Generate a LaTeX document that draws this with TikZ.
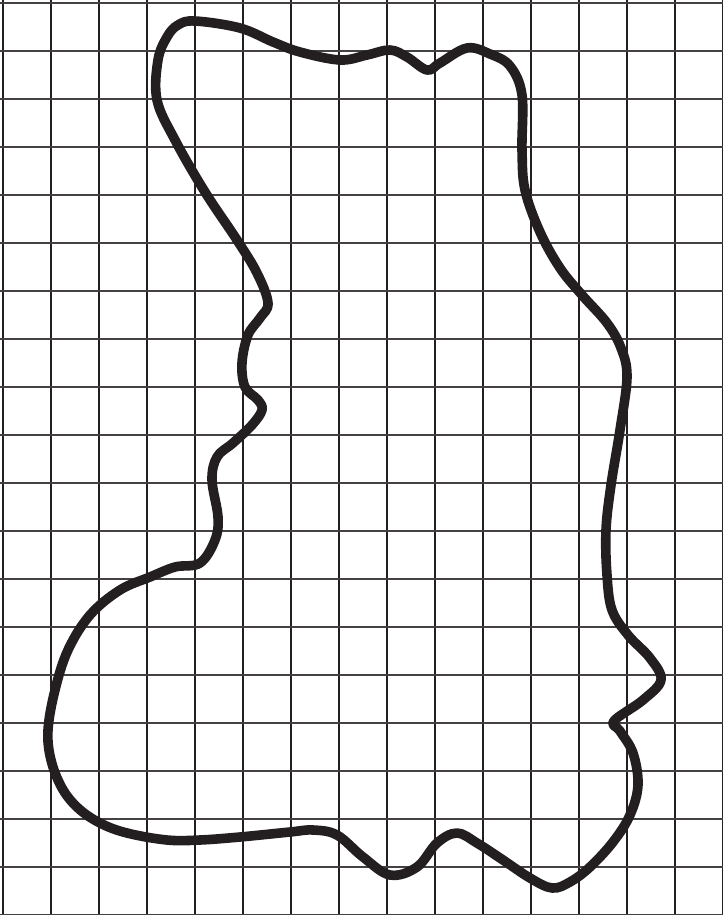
\documentclass[tikz,border=0pt]{standalone}
\usepackage{tikz}
\definecolor{gridInk}{HTML}{231F20}
\definecolor{blobInk}{HTML}{231F20}

\begin{document}
\begin{tikzpicture}[x=0.75pt, y=-0.75pt,
      gridline/.style={draw=gridInk, line width=1.4pt},
      hgridline/.style={draw=gridInk!85, line width=1.4pt},
      outline/.style={draw=blobInk, line width=7.2pt, line join=round}]
    \useasboundingbox (0,0) rectangle (723,915);
    % grid
    \foreach \k in {0,...,15}
      \draw[gridline] ({2.7+48*\k},0) -- ({2.7+48*\k},915);
    \foreach \k in {0,...,19}
      \draw[hgridline] (0,{2.7+48*\k}) -- (723,{2.7+48*\k});
    % closed outline
    \draw[outline] plot[smooth cycle, tension=0.6] coordinates {
      (195,21) (240,28) (273,42) (300,52) (340,60) (367,55) (390,50)
      (407,57) (427,70) (440,63) (467,48) (490,54) (510,66)
      (522,95) (522,150) (525,190) (540,232) (560,268) (582,295)
      (607,323) (621,348) (627,377) (620,430) (611,485) (606,530)
      (607,575) (612,610) (628,635) (650,658) (661,680)
      (643,700) (614,721) (620,731) (633,753) (638,785)
      (630,815) (613,842) (590,867) (570,882) (552,888) (530,878)
      (503,860) (477,843) (457,833) (437,843) (417,867) (390,875)
      (363,857) (337,835) (313,830) (290,832) (240,837) (200,840)
      (167,840) (127,833) (100,823) (78,808) (62,788) (51,760)
      (48,730) (55,690) (68,650) (90,615) (120,590)
      (150,577) (175,567) (200,563) (215,540) (218,517)
      (212,480) (217,457) (233,443) (252,425) (262,410)
      (258,400) (245,387) (242,363) (248,335) (260,318) (268,303)
      (257,273) (237,240) (205,192) (175,140) (157,100) (158,60)
      (167,37) (178,25)};
  \end{tikzpicture}
\end{document}
